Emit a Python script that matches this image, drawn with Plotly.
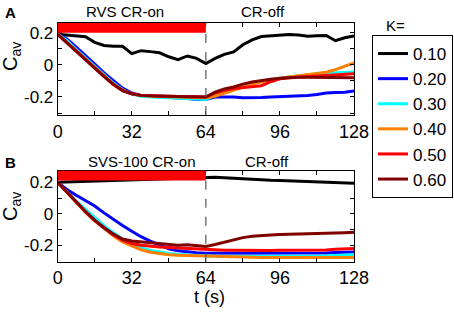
import plotly.graph_objects as go

t = list(range(0, 129, 4))

k_labels = ["0.10", "0.20", "0.30", "0.40", "0.50", "0.60"]
colors = ["#000000", "#0000ff", "#00ffff", "#ff7f00", "#ff0000", "#800000"]

# Panel A: RVS
a_010 = [0.19, 0.185, 0.178, 0.175, 0.14, 0.12, 0.115, 0.115, 0.07, 0.088, 0.082, 0.075, 0.05, 0.032, 0.055, 0.04, 0.008,
         0.04, 0.065, 0.08, 0.125, 0.155, 0.176, 0.18, 0.184, 0.188, 0.185, 0.178, 0.18, 0.182, 0.15, 0.168, 0.18]
a_020 = [0.19, 0.16, 0.11, 0.06, 0.005, -0.05, -0.1, -0.145, -0.175, -0.19, -0.195, -0.198, -0.2, -0.205, -0.21, -0.215, -0.215,
         -0.2, -0.198, -0.2, -0.204, -0.205, -0.203, -0.2, -0.198, -0.196, -0.193, -0.19, -0.185, -0.175, -0.172, -0.17, -0.163]
a_030 = [0.19, 0.15, 0.095, 0.043, -0.01, -0.063, -0.113, -0.155, -0.182, -0.195, -0.2, -0.203, -0.205, -0.208, -0.21, -0.213, -0.215,
         -0.19, -0.165, -0.148, -0.13, -0.115, -0.1, -0.09, -0.083, -0.076, -0.068, -0.062, -0.057, -0.052, -0.049, -0.047, -0.045]
a_040 = [0.19, 0.14, 0.088, 0.036, -0.017, -0.07, -0.12, -0.158, -0.18, -0.19, -0.195, -0.197, -0.199, -0.2, -0.202, -0.204, -0.205,
         -0.195, -0.175, -0.16, -0.14, -0.12, -0.105, -0.093, -0.085, -0.075, -0.067, -0.06, -0.053, -0.046, -0.03, -0.01, 0.012]
a_050 = [0.19, 0.138, 0.085, 0.033, -0.02, -0.073, -0.122, -0.16, -0.18, -0.19, -0.193, -0.195, -0.196, -0.197, -0.198, -0.199, -0.2,
         -0.175, -0.158, -0.148, -0.143, -0.138, -0.13, -0.105, -0.087, -0.08, -0.076, -0.072, -0.068, -0.064, -0.06, -0.057, -0.056]
a_060 = [0.19, 0.137, 0.084, 0.032, -0.021, -0.074, -0.12, -0.16, -0.18, -0.19, -0.193, -0.195, -0.196, -0.197, -0.198, -0.198, -0.2,
         -0.17, -0.15, -0.138, -0.12, -0.107, -0.097, -0.09, -0.084, -0.08, -0.078, -0.077, -0.077, -0.078, -0.079, -0.08, -0.08]

# Panel B: SVS-100
b_010 = [0.2, 0.202, 0.204, 0.206, 0.208, 0.21, 0.212, 0.214, 0.216, 0.218, 0.22, 0.222, 0.224, 0.226, 0.228, 0.23, 0.232,
         0.232, 0.23, 0.226, 0.222, 0.218, 0.215, 0.213, 0.211, 0.209, 0.207, 0.205, 0.203, 0.202, 0.2, 0.196, 0.195]
b_020 = [0.2, 0.155, 0.118, 0.085, 0.05, 0.006, -0.035, -0.074, -0.11, -0.145, -0.173, -0.198, -0.222, -0.235, -0.243, -0.247, -0.25,
         -0.25, -0.251, -0.25, -0.25, -0.251, -0.25, -0.25, -0.249, -0.25, -0.25, -0.249, -0.25, -0.248, -0.245, -0.243, -0.242]
b_030 = [0.2, 0.14, 0.08, 0.028, -0.025, -0.075, -0.12, -0.16, -0.19, -0.215, -0.232, -0.244, -0.252, -0.258, -0.262, -0.266, -0.27,
         -0.27, -0.27, -0.271, -0.27, -0.27, -0.27, -0.271, -0.27, -0.27, -0.27, -0.27, -0.27, -0.268, -0.265, -0.262, -0.26]
b_040 = [0.2, 0.135, 0.07, 0.01, -0.045, -0.095, -0.14, -0.178, -0.205, -0.228, -0.244, -0.254, -0.26, -0.263, -0.265, -0.266, -0.268,
         -0.268, -0.272, -0.275, -0.278, -0.278, -0.278, -0.278, -0.278, -0.278, -0.278, -0.278, -0.278, -0.278, -0.278, -0.278, -0.278]
b_050 = [0.2, 0.135, 0.072, 0.012, -0.043, -0.09, -0.133, -0.167, -0.188, -0.2, -0.207, -0.21, -0.214, -0.217, -0.22, -0.225, -0.228,
         -0.23, -0.232, -0.232, -0.233, -0.232, -0.232, -0.233, -0.232, -0.232, -0.232, -0.231, -0.232, -0.23, -0.225, -0.222, -0.22]
b_060 = [0.2, 0.138, 0.075, 0.015, -0.04, -0.088, -0.128, -0.16, -0.172, -0.178, -0.185, -0.19, -0.198, -0.2, -0.196, -0.2, -0.207,
         -0.195, -0.18, -0.163, -0.151, -0.143, -0.137, -0.134, -0.132, -0.131, -0.13, -0.128, -0.126, -0.124, -0.122, -0.12, -0.117]

series_a = [a_010, a_020, a_030, a_040, a_050, a_060]
series_b = [b_010, b_020, b_030, b_040, b_050, b_060]

x_tickvals = [0, 32, 64, 96, 128]
x_ticktext = ["0", "32", "64", "96", "128"]
y_tickvals = [-0.2, 0, 0.2]
y_ticktext = ["-0.2", "0", "0.2"]

cr_switch = 64
W, H = 454, 312
FONT = "Arial"

fig = go.Figure()
for lab, col, ya in zip(k_labels, colors, series_a):
    fig.add_trace(go.Scatter(x=t, y=ya, mode="lines", name=lab, line=dict(color=col, width=3),
                             xaxis="x", yaxis="y", showlegend=True, hoverinfo="skip"))
for lab, col, yb in zip(k_labels, colors, series_b):
    fig.add_trace(go.Scatter(x=t, y=yb, mode="lines", name=lab, line=dict(color=col, width=3),
                             xaxis="x2", yaxis="y2", showlegend=False, hoverinfo="skip"))

xdom = [57.7 / W, 354 / W]
axis_common = dict(showline=True, linecolor="black", linewidth=1, mirror="allticks", automargin=False,
                   ticks="inside", ticklen=4, tickcolor="black", showgrid=False, zeroline=False)
xa = dict(axis_common, range=[0, 128], domain=xdom, tickvals=x_tickvals, ticktext=x_ticktext,
          tickfont=dict(family=FONT, size=18, color="black"),
          minor=dict(dtick=16, tick0=0, ticks="inside", ticklen=4, tickcolor="black"))
ya = dict(axis_common, tickvals=y_tickvals, ticktext=y_ticktext,
          tickfont=dict(family=FONT, size=17, color="black"),
          minor=dict(dtick=0.1, tick0=0, ticks="inside", ticklen=4, tickcolor="black"))

fig.update_layout(
    width=W, height=H, margin=dict(l=0, r=0, t=0, b=0, autoexpand=False),
    paper_bgcolor="white", plot_bgcolor="white",
    xaxis=dict(xa, anchor="y"),
    xaxis2=dict(xa, anchor="y2"),
    yaxis=dict(ya, range=[-0.312, 0.26], domain=[1 - 115 / H, 1 - 23 / H], anchor="x"),
    yaxis2=dict(ya, range=[-0.304, 0.274], domain=[1 - 261.7 / H, 1 - 170.7 / H], anchor="x2"),
    legend=dict(x=1 - 1 / W, y=1 - 35 / H, xanchor="right", yanchor="top",
                bordercolor="black", borderwidth=1, bgcolor="white",
                font=dict(family=FONT, size=17, color="black"), itemwidth=30, tracegroupgap=0),
    showlegend=True,
)

# red CR-on bars and dashed switch lines
for xr, yr in [("x", "y"), ("x2", "y2")]:
    fig.add_shape(type="rect", xref=xr, yref=yr + " domain", x0=0, x1=cr_switch, y0=0.893, y1=1,
                  fillcolor="#ff0000", line=dict(width=0), layer="above")
    fig.add_shape(type="line", xref=xr, yref=yr + " domain", x0=cr_switch, x1=cr_switch, y0=0, y1=1,
                  line=dict(color="#555555", width=1.2, dash="dash"), layer="above")

annots = [
    dict(text="<b>A</b>", x=10 / W, y=1 - 12.5 / H, size=15),
    dict(text="<b>B</b>", x=10 / W, y=1 - 162 / H, size=15),
    dict(text="RVS CR-on", x=125 / W, y=1 - 12 / H, size=15),
    dict(text="CR-off", x=263 / W, y=1 - 12 / H, size=15),
    dict(text="SVS-100 CR-on", x=142 / W, y=1 - 161 / H, size=15),
    dict(text="CR-off", x=267 / W, y=1 - 161 / H, size=15),
    dict(text="K=", x=395 / W, y=1 - 25 / H, size=15),
    dict(text="t (s)", x=209 / W, y=1 - 297 / H, size=18),
]
for a in annots:
    fig.add_annotation(text=a["text"], x=a["x"], y=a["y"], xref="paper", yref="paper",
                       showarrow=False, xanchor="center", yanchor="middle",
                       font=dict(family=FONT, size=a["size"], color="black"))
for yc in [57, 207]:
    fig.add_annotation(text="C<sub>av</sub>", x=11 / W, y=1 - yc / H, xref="paper", yref="paper",
                       showarrow=False, textangle=-90, xanchor="center", yanchor="middle",
                       font=dict(family=FONT, size=20, color="black"))

fig.write_html("out.html", config={"displayModeBar": False},
               post_script="document.body.style.margin='0';")
